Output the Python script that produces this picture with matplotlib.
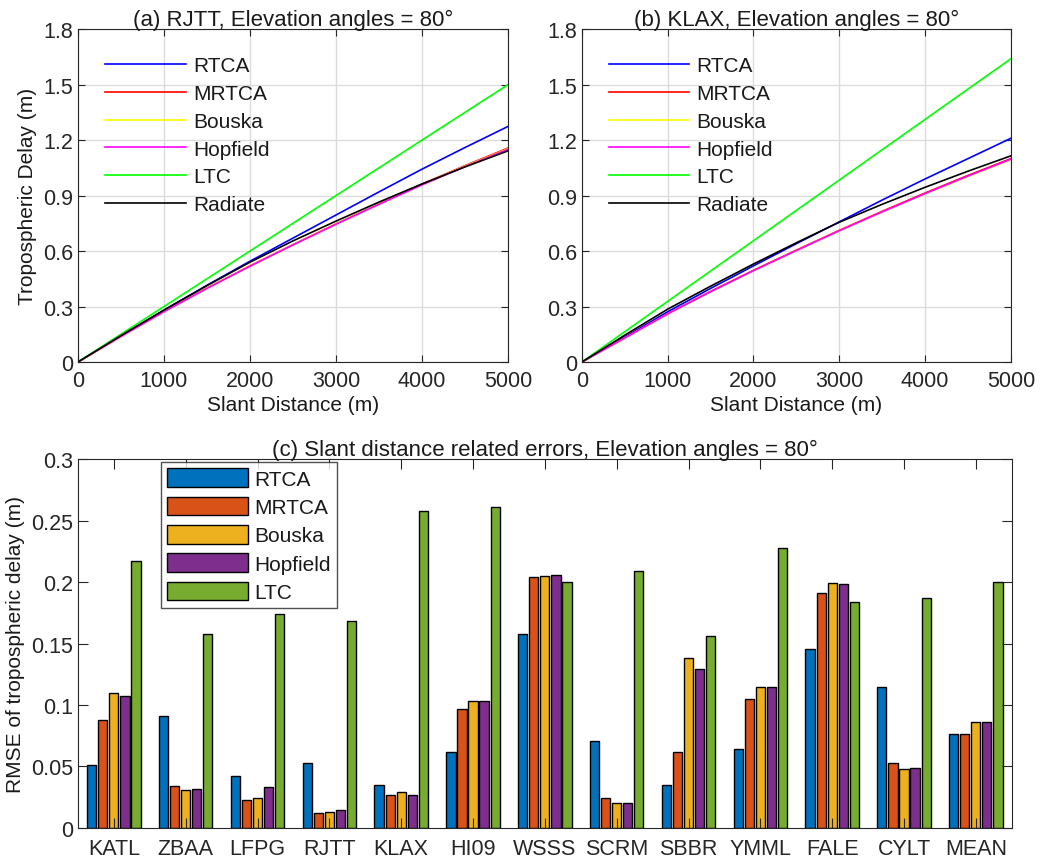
import numpy as np
import matplotlib
matplotlib.use('Agg')
import matplotlib.pyplot as plt

plt.rcParams['font.family'] = ['Liberation Sans', 'DejaVu Sans']
plt.rcParams['axes.edgecolor'] = '#262626'
plt.rcParams['xtick.color'] = '#262626'
plt.rcParams['ytick.color'] = '#262626'
plt.rcParams['text.color'] = '#1a1a1a'
plt.rcParams['axes.labelcolor'] = '#1a1a1a'

# 斜距 (m)
dist = [0, 500, 1000, 1500, 2000, 2500, 3000, 3500, 4000, 4500, 5000]

# (a) RJTT
rjtt_rtca = [0, 0.14, 0.28, 0.415, 0.545, 0.67, 0.795, 0.92, 1.043, 1.16, 1.274]
rjtt_mrtca = [0, 0.139, 0.274, 0.4, 0.52, 0.635, 0.747, 0.855, 0.962, 1.062, 1.157]
rjtt_bouska = [0, 0.138, 0.273, 0.399, 0.519, 0.634, 0.746, 0.854, 0.96, 1.059, 1.153]
rjtt_hopfield = [0, 0.138, 0.272, 0.398, 0.518, 0.633, 0.745, 0.853, 0.958, 1.057, 1.15]
rjtt_ltc = [0, 0.15, 0.30, 0.45, 0.60, 0.75, 0.90, 1.05, 1.20, 1.35, 1.50]
rjtt_radiate = [0, 0.143, 0.281, 0.413, 0.54, 0.655, 0.762, 0.865, 0.963, 1.055, 1.142]

# (b) KLAX
klax_rtca = [0, 0.135, 0.272, 0.398, 0.52, 0.64, 0.758, 0.876, 0.99, 1.1, 1.21]
klax_mrtca = [0, 0.131, 0.262, 0.382, 0.496, 0.605, 0.712, 0.815, 0.914, 1.009, 1.1]
klax_bouska = [0, 0.129, 0.259, 0.379, 0.493, 0.602, 0.709, 0.811, 0.909, 1.003, 1.094]
klax_hopfield = [0, 0.13, 0.26, 0.38, 0.494, 0.603, 0.71, 0.812, 0.911, 1.006, 1.097]
klax_ltc = [0, 0.164, 0.328, 0.492, 0.656, 0.82, 0.984, 1.148, 1.312, 1.476, 1.64]
klax_radiate = [0, 0.145, 0.286, 0.41, 0.53, 0.645, 0.756, 0.853, 0.945, 1.032, 1.115]

line_names = ['RTCA', 'MRTCA', 'Bouska', 'Hopfield', 'LTC', 'Radiate']
line_colors = ['#0000ff', '#ff0000', '#ffff00', '#ff00ff', '#00ff00', '#000000']

# (c) RMSE
stations = ['KATL', 'ZBAA', 'LFPG', 'RJTT', 'KLAX', 'HI09', 'WSSS', 'SCRM', 'SBBR', 'YMML', 'FALE', 'CYLT', 'MEAN']
rmse_rtca = [0.051, 0.091, 0.042, 0.0526, 0.035, 0.0616, 0.158, 0.0708, 0.035, 0.0643, 0.1457, 0.1147, 0.0768]
rmse_mrtca = [0.0876, 0.034, 0.0225, 0.0125, 0.0266, 0.097, 0.204, 0.024, 0.062, 0.105, 0.1907, 0.0529, 0.0768]
rmse_bouska = [0.110, 0.0307, 0.0244, 0.0127, 0.029, 0.103, 0.205, 0.0206, 0.138, 0.115, 0.1994, 0.0477, 0.0863]
rmse_hopfield = [0.107, 0.0315, 0.033, 0.0146, 0.0269, 0.103, 0.206, 0.0206, 0.129, 0.1147, 0.1988, 0.0486, 0.086]
rmse_ltc = [0.217, 0.1576, 0.174, 0.168, 0.258, 0.261, 0.200, 0.209, 0.156, 0.228, 0.1834, 0.1874, 0.200]
bar_names = ['RTCA', 'MRTCA', 'Bouska', 'Hopfield', 'LTC']
bar_colors = ['#0072BD', '#D95319', '#EDB120', '#7E2F8E', '#77AC30']

fig = plt.figure(figsize=(10.41, 8.62), dpi=100)
ax1 = fig.add_axes([0.0749, 0.5789, 0.413, 0.386])
ax2 = fig.add_axes([0.559, 0.5789, 0.412, 0.386])
ax3 = fig.add_axes([0.0749, 0.0383, 0.897, 0.428])

fs = 15.5


def line_panel(ax, series, title):
    for s, name, c in zip(series, line_names, line_colors):
        ax.plot(dist, s, color=c, lw=1.2, label=name)
    ax.set_xlim(0, 5000)
    ax.set_ylim(0, 1.8)
    ax.set_xticks([0, 1000, 2000, 3000, 4000, 5000])
    ax.set_yticks([0, 0.3, 0.6, 0.9, 1.2, 1.5, 1.8])
    ax.set_yticklabels(['0', '0.3', '0.6', '0.9', '1.2', '1.5', '1.8'])
    ax.grid(True, color='#dcdcdc', lw=1)
    ax.tick_params(direction='in', top=True, right=True, labelsize=fs, length=5)
    ax.tick_params(axis='x', pad=6)
    ax.set_xlabel('Slant Distance (m)', fontsize=15, labelpad=3)
    ax.set_title(title, fontsize=16, pad=3)
    ax.legend(loc='upper left', bbox_to_anchor=(0.02, 0.975), frameon=False, fontsize=15,
              handlelength=3.85, labelspacing=0.42, handletextpad=0.35)


line_panel(ax1, [rjtt_rtca, rjtt_mrtca, rjtt_bouska, rjtt_hopfield, rjtt_ltc, rjtt_radiate],
           '(a) RJTT, Elevation angles = 80°')
ax1.set_ylabel('Tropospheric Delay (m)', fontsize=15, labelpad=4)
line_panel(ax2, [klax_rtca, klax_mrtca, klax_bouska, klax_hopfield, klax_ltc, klax_radiate],
           '(b) KLAX, Elevation angles = 80°')

# 分组柱状图
x = np.arange(1, len(stations) + 1)
slot = 0.154
for i, (vals, name, c) in enumerate(zip([rmse_rtca, rmse_mrtca, rmse_bouska, rmse_hopfield, rmse_ltc],
                                        bar_names, bar_colors)):
    ax3.bar(x + (i - 2) * slot, vals, width=0.128, color=c, edgecolor='black', lw=1, label=name)
ax3.set_xlim(0.5, len(stations) + 0.5)
ax3.set_ylim(0, 0.3)
ax3.set_xticks(x)
ax3.set_xticklabels(stations)
ax3.set_yticks([0, 0.05, 0.1, 0.15, 0.2, 0.25, 0.3])
ax3.set_yticklabels(['0', '0.05', '0.1', '0.15', '0.2', '0.25', '0.3'])
ax3.tick_params(direction='in', top=True, right=True, labelsize=fs, length=7)
ax3.tick_params(axis='x', pad=7)
ax3.set_ylabel('RMSE of tropospheric delay (m)', fontsize=15, labelpad=4)
ax3.set_title('(c) Slant distance related errors, Elevation angles = 80°', fontsize=16, pad=3)
leg = ax3.legend(loc='upper left', bbox_to_anchor=(0.089, 0.992), fontsize=15, fancybox=False,
                 edgecolor='#262626', handlelength=3.85, handleheight=1.0, labelspacing=0.38,
                 handletextpad=0.3, borderpad=0.3, borderaxespad=0)
leg.get_frame().set_linewidth(1)

fig.savefig('out.png', dpi=100)
